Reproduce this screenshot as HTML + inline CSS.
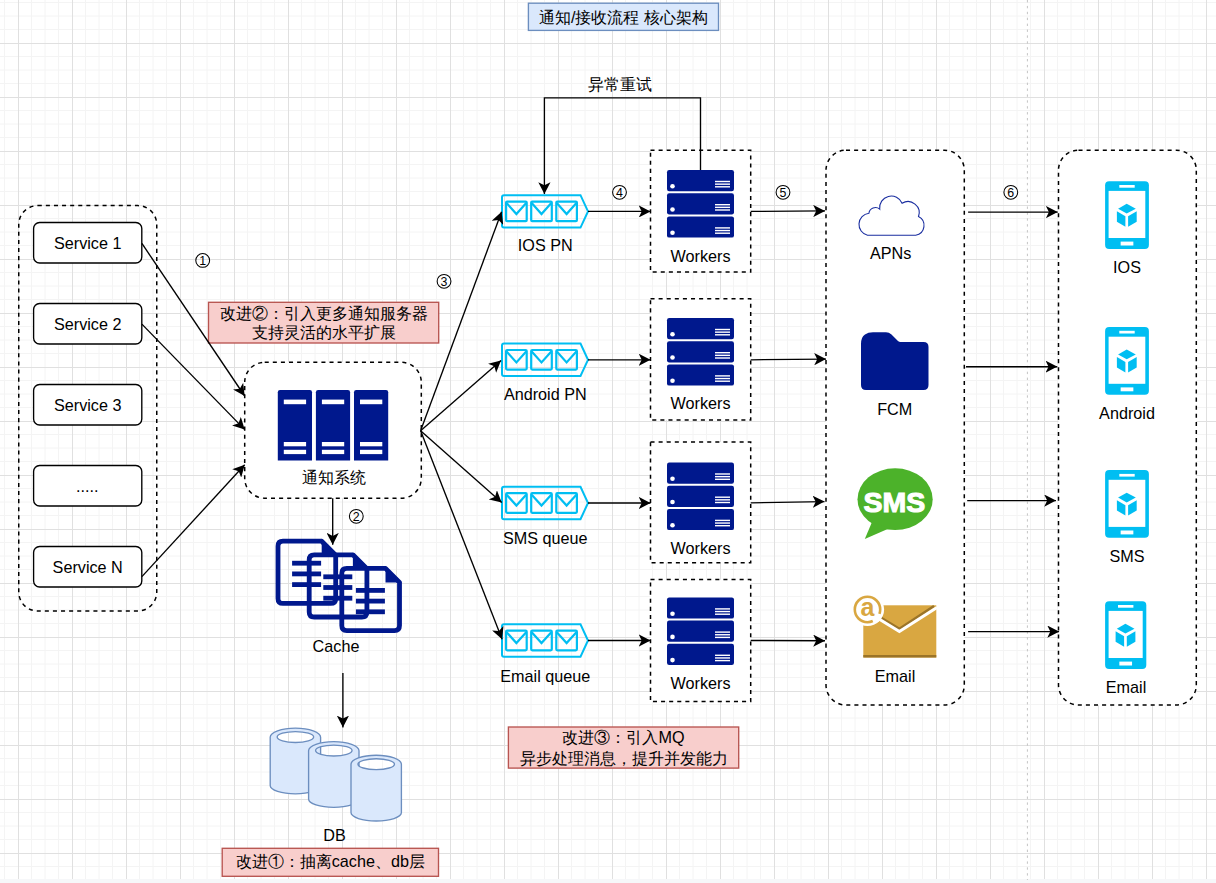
<!DOCTYPE html>
<html><head><meta charset="utf-8"><title>diagram</title>
<style>
html,body{margin:0;padding:0;background:#fff;width:1216px;height:883px;overflow:hidden}
svg{display:block}
text{font-family:'Liberation Sans', sans-serif;font-size:16.2px;fill:#000}
</style></head><body>
<svg width="1216" height="883" viewBox="0 0 1216 883">
<defs>
<marker id="ar" viewBox="0 0 11.8 12.2" refX="11.8" refY="6.1" markerWidth="11.8" markerHeight="12.2" markerUnits="userSpaceOnUse" orient="auto">
<path d="M0 0 L11.8 6.1 L0 12.2 L3 6.1 Z" fill="#000"/>
</marker>
</defs>

<g stroke="#f4f4f4" stroke-width="1"><line x1="4.5" y1="0" x2="4.5" y2="879"/><line x1="31.5" y1="0" x2="31.5" y2="879"/><line x1="45.0" y1="0" x2="45.0" y2="879"/><line x1="58.5" y1="0" x2="58.5" y2="879"/><line x1="85.5" y1="0" x2="85.5" y2="879"/><line x1="99.0" y1="0" x2="99.0" y2="879"/><line x1="112.5" y1="0" x2="112.5" y2="879"/><line x1="139.5" y1="0" x2="139.5" y2="879"/><line x1="153.0" y1="0" x2="153.0" y2="879"/><line x1="166.5" y1="0" x2="166.5" y2="879"/><line x1="193.5" y1="0" x2="193.5" y2="879"/><line x1="207.0" y1="0" x2="207.0" y2="879"/><line x1="220.5" y1="0" x2="220.5" y2="879"/><line x1="247.5" y1="0" x2="247.5" y2="879"/><line x1="261.0" y1="0" x2="261.0" y2="879"/><line x1="274.5" y1="0" x2="274.5" y2="879"/><line x1="301.5" y1="0" x2="301.5" y2="879"/><line x1="315.0" y1="0" x2="315.0" y2="879"/><line x1="328.5" y1="0" x2="328.5" y2="879"/><line x1="355.5" y1="0" x2="355.5" y2="879"/><line x1="369.0" y1="0" x2="369.0" y2="879"/><line x1="382.5" y1="0" x2="382.5" y2="879"/><line x1="409.5" y1="0" x2="409.5" y2="879"/><line x1="423.0" y1="0" x2="423.0" y2="879"/><line x1="436.5" y1="0" x2="436.5" y2="879"/><line x1="463.5" y1="0" x2="463.5" y2="879"/><line x1="477.0" y1="0" x2="477.0" y2="879"/><line x1="490.5" y1="0" x2="490.5" y2="879"/><line x1="517.5" y1="0" x2="517.5" y2="879"/><line x1="531.0" y1="0" x2="531.0" y2="879"/><line x1="544.5" y1="0" x2="544.5" y2="879"/><line x1="571.5" y1="0" x2="571.5" y2="879"/><line x1="585.0" y1="0" x2="585.0" y2="879"/><line x1="598.5" y1="0" x2="598.5" y2="879"/><line x1="625.5" y1="0" x2="625.5" y2="879"/><line x1="639.0" y1="0" x2="639.0" y2="879"/><line x1="652.5" y1="0" x2="652.5" y2="879"/><line x1="679.5" y1="0" x2="679.5" y2="879"/><line x1="693.0" y1="0" x2="693.0" y2="879"/><line x1="706.5" y1="0" x2="706.5" y2="879"/><line x1="733.5" y1="0" x2="733.5" y2="879"/><line x1="747.0" y1="0" x2="747.0" y2="879"/><line x1="760.5" y1="0" x2="760.5" y2="879"/><line x1="787.5" y1="0" x2="787.5" y2="879"/><line x1="801.0" y1="0" x2="801.0" y2="879"/><line x1="814.5" y1="0" x2="814.5" y2="879"/><line x1="841.5" y1="0" x2="841.5" y2="879"/><line x1="855.0" y1="0" x2="855.0" y2="879"/><line x1="868.5" y1="0" x2="868.5" y2="879"/><line x1="895.5" y1="0" x2="895.5" y2="879"/><line x1="909.0" y1="0" x2="909.0" y2="879"/><line x1="922.5" y1="0" x2="922.5" y2="879"/><line x1="949.5" y1="0" x2="949.5" y2="879"/><line x1="963.0" y1="0" x2="963.0" y2="879"/><line x1="976.5" y1="0" x2="976.5" y2="879"/><line x1="1003.5" y1="0" x2="1003.5" y2="879"/><line x1="1017.0" y1="0" x2="1017.0" y2="879"/><line x1="1030.5" y1="0" x2="1030.5" y2="879"/><line x1="1057.5" y1="0" x2="1057.5" y2="879"/><line x1="1071.0" y1="0" x2="1071.0" y2="879"/><line x1="1084.5" y1="0" x2="1084.5" y2="879"/><line x1="1111.5" y1="0" x2="1111.5" y2="879"/><line x1="1125.0" y1="0" x2="1125.0" y2="879"/><line x1="1138.5" y1="0" x2="1138.5" y2="879"/><line x1="1165.5" y1="0" x2="1165.5" y2="879"/><line x1="1179.0" y1="0" x2="1179.0" y2="879"/><line x1="1192.5" y1="0" x2="1192.5" y2="879"/><line x1="0" y1="2.5" x2="1216" y2="2.5"/><line x1="0" y1="16.0" x2="1216" y2="16.0"/><line x1="0" y1="29.5" x2="1216" y2="29.5"/><line x1="0" y1="56.5" x2="1216" y2="56.5"/><line x1="0" y1="70.0" x2="1216" y2="70.0"/><line x1="0" y1="83.5" x2="1216" y2="83.5"/><line x1="0" y1="110.5" x2="1216" y2="110.5"/><line x1="0" y1="124.0" x2="1216" y2="124.0"/><line x1="0" y1="137.5" x2="1216" y2="137.5"/><line x1="0" y1="164.5" x2="1216" y2="164.5"/><line x1="0" y1="178.0" x2="1216" y2="178.0"/><line x1="0" y1="191.5" x2="1216" y2="191.5"/><line x1="0" y1="218.5" x2="1216" y2="218.5"/><line x1="0" y1="232.0" x2="1216" y2="232.0"/><line x1="0" y1="245.5" x2="1216" y2="245.5"/><line x1="0" y1="272.5" x2="1216" y2="272.5"/><line x1="0" y1="286.0" x2="1216" y2="286.0"/><line x1="0" y1="299.5" x2="1216" y2="299.5"/><line x1="0" y1="326.5" x2="1216" y2="326.5"/><line x1="0" y1="340.0" x2="1216" y2="340.0"/><line x1="0" y1="353.5" x2="1216" y2="353.5"/><line x1="0" y1="380.5" x2="1216" y2="380.5"/><line x1="0" y1="394.0" x2="1216" y2="394.0"/><line x1="0" y1="407.5" x2="1216" y2="407.5"/><line x1="0" y1="434.5" x2="1216" y2="434.5"/><line x1="0" y1="448.0" x2="1216" y2="448.0"/><line x1="0" y1="461.5" x2="1216" y2="461.5"/><line x1="0" y1="488.5" x2="1216" y2="488.5"/><line x1="0" y1="502.0" x2="1216" y2="502.0"/><line x1="0" y1="515.5" x2="1216" y2="515.5"/><line x1="0" y1="542.5" x2="1216" y2="542.5"/><line x1="0" y1="556.0" x2="1216" y2="556.0"/><line x1="0" y1="569.5" x2="1216" y2="569.5"/><line x1="0" y1="596.5" x2="1216" y2="596.5"/><line x1="0" y1="610.0" x2="1216" y2="610.0"/><line x1="0" y1="623.5" x2="1216" y2="623.5"/><line x1="0" y1="650.5" x2="1216" y2="650.5"/><line x1="0" y1="664.0" x2="1216" y2="664.0"/><line x1="0" y1="677.5" x2="1216" y2="677.5"/><line x1="0" y1="704.5" x2="1216" y2="704.5"/><line x1="0" y1="718.0" x2="1216" y2="718.0"/><line x1="0" y1="731.5" x2="1216" y2="731.5"/><line x1="0" y1="758.5" x2="1216" y2="758.5"/><line x1="0" y1="772.0" x2="1216" y2="772.0"/><line x1="0" y1="785.5" x2="1216" y2="785.5"/><line x1="0" y1="812.5" x2="1216" y2="812.5"/><line x1="0" y1="826.0" x2="1216" y2="826.0"/><line x1="0" y1="839.5" x2="1216" y2="839.5"/><line x1="0" y1="866.5" x2="1216" y2="866.5"/></g>
<g stroke="#e0e0e0" stroke-width="1"><line x1="18.5" y1="0" x2="18.5" y2="879"/><line x1="72.5" y1="0" x2="72.5" y2="879"/><line x1="126.5" y1="0" x2="126.5" y2="879"/><line x1="180.5" y1="0" x2="180.5" y2="879"/><line x1="234.5" y1="0" x2="234.5" y2="879"/><line x1="288.5" y1="0" x2="288.5" y2="879"/><line x1="342.5" y1="0" x2="342.5" y2="879"/><line x1="396.5" y1="0" x2="396.5" y2="879"/><line x1="450.5" y1="0" x2="450.5" y2="879"/><line x1="504.5" y1="0" x2="504.5" y2="879"/><line x1="558.5" y1="0" x2="558.5" y2="879"/><line x1="612.5" y1="0" x2="612.5" y2="879"/><line x1="666.5" y1="0" x2="666.5" y2="879"/><line x1="720.5" y1="0" x2="720.5" y2="879"/><line x1="774.5" y1="0" x2="774.5" y2="879"/><line x1="828.5" y1="0" x2="828.5" y2="879"/><line x1="882.5" y1="0" x2="882.5" y2="879"/><line x1="936.5" y1="0" x2="936.5" y2="879"/><line x1="990.5" y1="0" x2="990.5" y2="879"/><line x1="1044.5" y1="0" x2="1044.5" y2="879"/><line x1="1098.5" y1="0" x2="1098.5" y2="879"/><line x1="1152.5" y1="0" x2="1152.5" y2="879"/><line x1="1206.5" y1="0" x2="1206.5" y2="879"/><line x1="0" y1="43.5" x2="1216" y2="43.5"/><line x1="0" y1="97.5" x2="1216" y2="97.5"/><line x1="0" y1="151.5" x2="1216" y2="151.5"/><line x1="0" y1="205.5" x2="1216" y2="205.5"/><line x1="0" y1="259.5" x2="1216" y2="259.5"/><line x1="0" y1="313.5" x2="1216" y2="313.5"/><line x1="0" y1="367.5" x2="1216" y2="367.5"/><line x1="0" y1="421.5" x2="1216" y2="421.5"/><line x1="0" y1="475.5" x2="1216" y2="475.5"/><line x1="0" y1="529.5" x2="1216" y2="529.5"/><line x1="0" y1="583.5" x2="1216" y2="583.5"/><line x1="0" y1="637.5" x2="1216" y2="637.5"/><line x1="0" y1="691.5" x2="1216" y2="691.5"/><line x1="0" y1="745.5" x2="1216" y2="745.5"/><line x1="0" y1="799.5" x2="1216" y2="799.5"/><line x1="0" y1="853.5" x2="1216" y2="853.5"/></g>
<rect x="0" y="879" width="1216" height="4" fill="#f6f7f9"/>
<line x1="1027.4" y1="0" x2="1027.4" y2="880" stroke="#c4c4c4" stroke-width="1" stroke-dasharray="2.4 3.5"/>
<rect x="528.4" y="3.2" width="190.1" height="27.2" fill="#dae8fc" stroke="#6c8ebf" stroke-width="1.35"/>
<text x="623.5" y="22.6" text-anchor="middle" >通知/接收流程 核心架构</text>
<rect x="18.75" y="205.6" width="138" height="405.4" rx="19" ry="19" fill="none" stroke="#000" stroke-width="1.5" stroke-dasharray="4.05 4.05"/>
<rect x="33.6" y="222.5" width="108.2" height="40.5" rx="6" ry="6" fill="#fff" stroke="#000" stroke-width="1.35"/>
<text x="87.7" y="248.6" text-anchor="middle" >Service 1</text>
<rect x="33.6" y="303.5" width="108.2" height="40.5" rx="6" ry="6" fill="#fff" stroke="#000" stroke-width="1.35"/>
<text x="87.7" y="329.6" text-anchor="middle" >Service 2</text>
<rect x="33.6" y="384.5" width="108.2" height="40.5" rx="6" ry="6" fill="#fff" stroke="#000" stroke-width="1.35"/>
<text x="87.7" y="410.6" text-anchor="middle" >Service 3</text>
<rect x="33.6" y="465.5" width="108.2" height="40.5" rx="6" ry="6" fill="#fff" stroke="#000" stroke-width="1.35"/>
<text x="87.2" y="492.1" text-anchor="middle" >.....</text>
<rect x="33.6" y="546.5" width="108.2" height="40.5" rx="6" ry="6" fill="#fff" stroke="#000" stroke-width="1.35"/>
<text x="87.7" y="572.6" text-anchor="middle" >Service N</text>
<rect x="208.5" y="302.3" width="230.2" height="40.7" fill="#f8cecc" stroke="#b85450" stroke-width="1.35"/>
<text x="323.6" y="318.6" text-anchor="middle" >改进②：引入更多通知服务器</text>
<text x="323.6" y="338.0" text-anchor="middle" >支持灵活的水平扩展</text>
<rect x="244.7" y="362.3" width="176.6" height="135.9" rx="20" ry="20" fill="#fff" stroke="#000" stroke-width="1.5" stroke-dasharray="4.05 4.05"/>
<path d="M277.8 392.2 q0 -2.2 2.2 -2.2 h29.8 q2.2 0 2.2 2.2 V460.6 H277.8 Z" fill="#00188d"/>
<rect x="283.8" y="399.6" width="22.3" height="4.6" fill="#fff"/>
<rect x="283.8" y="442" width="22.3" height="4.3" fill="#fff"/>
<rect x="283.8" y="449.8" width="22.3" height="4.3" fill="#fff"/>
<path d="M315.90000000000003 392.2 q0 -2.2 2.2 -2.2 h29.8 q2.2 0 2.2 2.2 V460.6 H315.90000000000003 Z" fill="#00188d"/>
<rect x="321.90000000000003" y="399.6" width="22.3" height="4.6" fill="#fff"/>
<rect x="321.90000000000003" y="442" width="22.3" height="4.3" fill="#fff"/>
<rect x="321.90000000000003" y="449.8" width="22.3" height="4.3" fill="#fff"/>
<path d="M354.0 392.2 q0 -2.2 2.2 -2.2 h29.8 q2.2 0 2.2 2.2 V460.6 H354.0 Z" fill="#00188d"/>
<rect x="360.0" y="399.6" width="22.3" height="4.6" fill="#fff"/>
<rect x="360.0" y="442" width="22.3" height="4.3" fill="#fff"/>
<rect x="360.0" y="449.8" width="22.3" height="4.3" fill="#fff"/>
<text x="333.5" y="483.2" text-anchor="middle" >通知系统</text>
<line x1="141.9" y1="243.4" x2="244.7" y2="396.0" stroke="#000" stroke-width="1.35" marker-end="url(#ar)"/>
<line x1="141.9" y1="324.1" x2="244.7" y2="429.6" stroke="#000" stroke-width="1.35" marker-end="url(#ar)"/>
<line x1="141.9" y1="576.6" x2="244.7" y2="464.8" stroke="#000" stroke-width="1.35" marker-end="url(#ar)"/>
<circle cx="202.7" cy="260.4" r="6.9" fill="none" stroke="#000" stroke-width="1.05"/>
<text x="202.7" y="264.79999999999995" text-anchor="middle" style="font-size:12.4px">1</text>
<line x1="332.7" y1="498.2" x2="332.7" y2="544.7" stroke="#000" stroke-width="1.35" marker-end="url(#ar)"/>
<circle cx="356.3" cy="516.3" r="6.9" fill="none" stroke="#000" stroke-width="1.05"/>
<text x="356.3" y="520.6999999999999" text-anchor="middle" style="font-size:12.4px">2</text>
<path d="M283.0 541.1999999999999 H321.70000000000005 L335.70000000000005 555.1999999999999 V598.4 Q335.70000000000005 603.4 330.70000000000005 603.4 H283.0 Q278.0 603.4 278.0 598.4 V546.1999999999999 Q278.0 541.1999999999999 283.0 541.1999999999999 Z" fill="none" stroke="#00188d" stroke-width="4.8" stroke-linejoin="round"/>
<path d="M321.70000000000005 538.8 L338.1 555.1999999999999 H321.70000000000005 Z" fill="#00188d"/>
<rect x="292.1" y="560.8" width="29" height="4.8" fill="#00188d"/>
<rect x="292.1" y="571.5" width="29" height="4.8" fill="#00188d"/>
<rect x="292.1" y="582.1999999999999" width="29" height="4.8" fill="#00188d"/>
<path d="M314.2 554.8 H352.90000000000003 L366.90000000000003 568.8 V612.0 Q366.90000000000003 617.0 361.90000000000003 617.0 H314.2 Q309.2 617.0 309.2 612.0 V559.8 Q309.2 554.8 314.2 554.8 Z" fill="none" stroke="#00188d" stroke-width="4.8" stroke-linejoin="round"/>
<path d="M352.90000000000003 552.4 L369.3 568.8 H352.90000000000003 Z" fill="#00188d"/>
<rect x="323.3" y="574.4" width="29" height="4.8" fill="#00188d"/>
<rect x="323.3" y="585.1" width="29" height="4.8" fill="#00188d"/>
<rect x="323.3" y="595.8" width="29" height="4.8" fill="#00188d"/>
<path d="M346.79999999999995 568.4 H385.5 L399.5 582.4 V625.6 Q399.5 630.6 394.5 630.6 H346.79999999999995 Q341.79999999999995 630.6 341.79999999999995 625.6 V573.4 Q341.79999999999995 568.4 346.79999999999995 568.4 Z" fill="none" stroke="#00188d" stroke-width="4.8" stroke-linejoin="round"/>
<path d="M385.5 566.0 L401.9 582.4 H385.5 Z" fill="#00188d"/>
<rect x="355.9" y="588.0" width="29" height="4.8" fill="#00188d"/>
<rect x="355.9" y="598.7" width="29" height="4.8" fill="#00188d"/>
<rect x="355.9" y="609.4" width="29" height="4.8" fill="#00188d"/>
<text x="336" y="651.7" text-anchor="middle" >Cache</text>
<line x1="342.9" y1="673.1" x2="342.9" y2="727.4" stroke="#000" stroke-width="1.35" marker-end="url(#ar)"/>
<path d="M270.2 737.3000000000001 A25.2 9.2 0 0 1 320.59999999999997 737.3000000000001 V785.5 A25.2 8.4 0 0 1 270.2 785.5 Z M277.15 737.0500000000001 A18.25 5.45 0 1 0 313.65 737.0500000000001 A18.25 5.45 0 1 0 277.15 737.0500000000001 Z" fill="#dae8fc" fill-rule="evenodd" stroke="#6c8ebf" stroke-width="1.35"/>
<path d="M308.6 750.8000000000001 A25.2 9.2 0 0 1 359.0 750.8000000000001 V799.0 A25.2 8.4 0 0 1 308.6 799.0 Z M315.55 750.5500000000001 A18.25 5.45 0 1 0 352.05 750.5500000000001 A18.25 5.45 0 1 0 315.55 750.5500000000001 Z" fill="#dae8fc" fill-rule="evenodd" stroke="#6c8ebf" stroke-width="1.35"/>
<path d="M351.0 764.4000000000001 A25.2 9.2 0 0 1 401.4 764.4000000000001 V812.6 A25.2 8.4 0 0 1 351.0 812.6 Z M357.95 764.1500000000001 A18.25 5.45 0 1 0 394.45 764.1500000000001 A18.25 5.45 0 1 0 357.95 764.1500000000001 Z" fill="#dae8fc" fill-rule="evenodd" stroke="#6c8ebf" stroke-width="1.35"/>
<text x="334.5" y="840.5" text-anchor="middle" >DB</text>
<rect x="222.2" y="848.3" width="216.3" height="28" fill="#f8cecc" stroke="#b85450" stroke-width="1.35"/>
<text x="330.3" y="867.3" text-anchor="middle" >改进①：抽离cache、db层</text>
<path d="M504 195.20000000000002 H580.5 L588 211.4 L580.5 227.6 H504 Q502 227.6 502 225.6 V197.20000000000002 Q502 195.20000000000002 504 195.20000000000002 Z" fill="none" stroke="#00bef2" stroke-width="2"/>
<rect x="506.1" y="201.6" width="20.6" height="19.6" rx="1" fill="none" stroke="#00bef2" stroke-width="2.2"/>
<path d="M506.6 203.1 L516.4 214.0 L526.2 203.1" fill="none" stroke="#00bef2" stroke-width="2.2"/>
<rect x="531.2" y="201.6" width="20.6" height="19.6" rx="1" fill="none" stroke="#00bef2" stroke-width="2.2"/>
<path d="M531.7 203.1 L541.5 214.0 L551.3000000000001 203.1" fill="none" stroke="#00bef2" stroke-width="2.2"/>
<rect x="556.3000000000001" y="201.6" width="20.6" height="19.6" rx="1" fill="none" stroke="#00bef2" stroke-width="2.2"/>
<path d="M556.8000000000001 203.1 L566.6 214.0 L576.4000000000001 203.1" fill="none" stroke="#00bef2" stroke-width="2.2"/>
<text x="545.3" y="250.6" text-anchor="middle" >IOS PN</text>
<path d="M504 343.6 H580.5 L588 359.8 L580.5 376.0 H504 Q502 376.0 502 374.0 V345.6 Q502 343.6 504 343.6 Z" fill="none" stroke="#00bef2" stroke-width="2"/>
<rect x="506.1" y="350.0" width="20.6" height="19.6" rx="1" fill="none" stroke="#00bef2" stroke-width="2.2"/>
<path d="M506.6 351.5 L516.4 362.4 L526.2 351.5" fill="none" stroke="#00bef2" stroke-width="2.2"/>
<rect x="531.2" y="350.0" width="20.6" height="19.6" rx="1" fill="none" stroke="#00bef2" stroke-width="2.2"/>
<path d="M531.7 351.5 L541.5 362.4 L551.3000000000001 351.5" fill="none" stroke="#00bef2" stroke-width="2.2"/>
<rect x="556.3000000000001" y="350.0" width="20.6" height="19.6" rx="1" fill="none" stroke="#00bef2" stroke-width="2.2"/>
<path d="M556.8000000000001 351.5 L566.6 362.4 L576.4000000000001 351.5" fill="none" stroke="#00bef2" stroke-width="2.2"/>
<text x="545.3" y="400.0" text-anchor="middle" >Android PN</text>
<path d="M504 486.8 H580.5 L588 503.0 L580.5 519.2 H504 Q502 519.2 502 517.2 V488.8 Q502 486.8 504 486.8 Z" fill="none" stroke="#00bef2" stroke-width="2"/>
<rect x="506.1" y="493.2" width="20.6" height="19.6" rx="1" fill="none" stroke="#00bef2" stroke-width="2.2"/>
<path d="M506.6 494.7 L516.4 505.59999999999997 L526.2 494.7" fill="none" stroke="#00bef2" stroke-width="2.2"/>
<rect x="531.2" y="493.2" width="20.6" height="19.6" rx="1" fill="none" stroke="#00bef2" stroke-width="2.2"/>
<path d="M531.7 494.7 L541.5 505.59999999999997 L551.3000000000001 494.7" fill="none" stroke="#00bef2" stroke-width="2.2"/>
<rect x="556.3000000000001" y="493.2" width="20.6" height="19.6" rx="1" fill="none" stroke="#00bef2" stroke-width="2.2"/>
<path d="M556.8000000000001 494.7 L566.6 505.59999999999997 L576.4000000000001 494.7" fill="none" stroke="#00bef2" stroke-width="2.2"/>
<text x="545.3" y="544.0" text-anchor="middle" >SMS queue</text>
<path d="M504 624.3 H580.5 L588 640.5 L580.5 656.7 H504 Q502 656.7 502 654.7 V626.3 Q502 624.3 504 624.3 Z" fill="none" stroke="#00bef2" stroke-width="2"/>
<rect x="506.1" y="630.7" width="20.6" height="19.6" rx="1" fill="none" stroke="#00bef2" stroke-width="2.2"/>
<path d="M506.6 632.2 L516.4 643.1 L526.2 632.2" fill="none" stroke="#00bef2" stroke-width="2.2"/>
<rect x="531.2" y="630.7" width="20.6" height="19.6" rx="1" fill="none" stroke="#00bef2" stroke-width="2.2"/>
<path d="M531.7 632.2 L541.5 643.1 L551.3000000000001 632.2" fill="none" stroke="#00bef2" stroke-width="2.2"/>
<rect x="556.3000000000001" y="630.7" width="20.6" height="19.6" rx="1" fill="none" stroke="#00bef2" stroke-width="2.2"/>
<path d="M556.8000000000001 632.2 L566.6 643.1 L576.4000000000001 632.2" fill="none" stroke="#00bef2" stroke-width="2.2"/>
<text x="545.3" y="682.3" text-anchor="middle" >Email queue</text>
<line x1="420.6" y1="430.8" x2="501.6" y2="211.7" stroke="#000" stroke-width="1.35" marker-end="url(#ar)"/>
<line x1="420.6" y1="430.8" x2="501.0" y2="360.5" stroke="#000" stroke-width="1.35" marker-end="url(#ar)"/>
<line x1="420.6" y1="430.8" x2="501.7" y2="502.6" stroke="#000" stroke-width="1.35" marker-end="url(#ar)"/>
<line x1="420.6" y1="430.8" x2="502.1" y2="639.2" stroke="#000" stroke-width="1.35" marker-end="url(#ar)"/>
<circle cx="444.05" cy="281.3" r="6.9" fill="none" stroke="#000" stroke-width="1.05"/>
<text x="444.05" y="285.7" text-anchor="middle" style="font-size:12.4px">3</text>
<rect x="650.5" y="150.3" width="100.2" height="121.69999999999999" fill="#fff" stroke="#000" stroke-width="1.5" stroke-dasharray="4.05 4.05"/>
<rect x="667.0" y="170.0" width="67" height="21.2" rx="2.2" fill="#00188d"/>
<circle cx="672.5" cy="186.3" r="2.3" fill="#fff"/>
<rect x="715.0" y="180.8" width="15" height="1.4" fill="#fff"/>
<rect x="715.0" y="183.45000000000002" width="15" height="1.4" fill="#fff"/>
<rect x="715.0" y="186.10000000000002" width="15" height="1.4" fill="#fff"/>
<rect x="667.0" y="193.2" width="67" height="21.2" rx="2.2" fill="#00188d"/>
<circle cx="672.5" cy="209.5" r="2.3" fill="#fff"/>
<rect x="715.0" y="204.0" width="15" height="1.4" fill="#fff"/>
<rect x="715.0" y="206.65" width="15" height="1.4" fill="#fff"/>
<rect x="715.0" y="209.3" width="15" height="1.4" fill="#fff"/>
<rect x="667.0" y="216.4" width="67" height="21.2" rx="2.2" fill="#00188d"/>
<circle cx="672.5" cy="232.70000000000002" r="2.3" fill="#fff"/>
<rect x="715.0" y="227.20000000000002" width="15" height="1.4" fill="#fff"/>
<rect x="715.0" y="229.85000000000002" width="15" height="1.4" fill="#fff"/>
<rect x="715.0" y="232.50000000000003" width="15" height="1.4" fill="#fff"/>
<text x="700.6" y="262.2" text-anchor="middle" >Workers</text>
<rect x="650.5" y="298.7" width="100.2" height="121.30000000000001" fill="#fff" stroke="#000" stroke-width="1.5" stroke-dasharray="4.05 4.05"/>
<rect x="667.0" y="318.0" width="67" height="21.2" rx="2.2" fill="#00188d"/>
<circle cx="672.5" cy="334.3" r="2.3" fill="#fff"/>
<rect x="715.0" y="328.8" width="15" height="1.4" fill="#fff"/>
<rect x="715.0" y="331.45" width="15" height="1.4" fill="#fff"/>
<rect x="715.0" y="334.1" width="15" height="1.4" fill="#fff"/>
<rect x="667.0" y="341.2" width="67" height="21.2" rx="2.2" fill="#00188d"/>
<circle cx="672.5" cy="357.5" r="2.3" fill="#fff"/>
<rect x="715.0" y="352.0" width="15" height="1.4" fill="#fff"/>
<rect x="715.0" y="354.65" width="15" height="1.4" fill="#fff"/>
<rect x="715.0" y="357.3" width="15" height="1.4" fill="#fff"/>
<rect x="667.0" y="364.4" width="67" height="21.2" rx="2.2" fill="#00188d"/>
<circle cx="672.5" cy="380.7" r="2.3" fill="#fff"/>
<rect x="715.0" y="375.2" width="15" height="1.4" fill="#fff"/>
<rect x="715.0" y="377.84999999999997" width="15" height="1.4" fill="#fff"/>
<rect x="715.0" y="380.5" width="15" height="1.4" fill="#fff"/>
<text x="700.6" y="409.1" text-anchor="middle" >Workers</text>
<rect x="650.5" y="442.1" width="100.2" height="120.60000000000002" fill="#fff" stroke="#000" stroke-width="1.5" stroke-dasharray="4.05 4.05"/>
<rect x="667.0" y="462.5" width="67" height="21.2" rx="2.2" fill="#00188d"/>
<circle cx="672.5" cy="478.8" r="2.3" fill="#fff"/>
<rect x="715.0" y="473.3" width="15" height="1.4" fill="#fff"/>
<rect x="715.0" y="475.95" width="15" height="1.4" fill="#fff"/>
<rect x="715.0" y="478.6" width="15" height="1.4" fill="#fff"/>
<rect x="667.0" y="485.7" width="67" height="21.2" rx="2.2" fill="#00188d"/>
<circle cx="672.5" cy="502.0" r="2.3" fill="#fff"/>
<rect x="715.0" y="496.5" width="15" height="1.4" fill="#fff"/>
<rect x="715.0" y="499.15" width="15" height="1.4" fill="#fff"/>
<rect x="715.0" y="501.8" width="15" height="1.4" fill="#fff"/>
<rect x="667.0" y="508.9" width="67" height="21.2" rx="2.2" fill="#00188d"/>
<circle cx="672.5" cy="525.1999999999999" r="2.3" fill="#fff"/>
<rect x="715.0" y="519.6999999999999" width="15" height="1.4" fill="#fff"/>
<rect x="715.0" y="522.3499999999999" width="15" height="1.4" fill="#fff"/>
<rect x="715.0" y="524.9999999999999" width="15" height="1.4" fill="#fff"/>
<text x="700.6" y="553.5" text-anchor="middle" >Workers</text>
<rect x="650.5" y="579.6" width="100.2" height="122.0" fill="#fff" stroke="#000" stroke-width="1.5" stroke-dasharray="4.05 4.05"/>
<rect x="667.0" y="597.4" width="67" height="21.2" rx="2.2" fill="#00188d"/>
<circle cx="672.5" cy="613.6999999999999" r="2.3" fill="#fff"/>
<rect x="715.0" y="608.1999999999999" width="15" height="1.4" fill="#fff"/>
<rect x="715.0" y="610.8499999999999" width="15" height="1.4" fill="#fff"/>
<rect x="715.0" y="613.4999999999999" width="15" height="1.4" fill="#fff"/>
<rect x="667.0" y="620.6" width="67" height="21.2" rx="2.2" fill="#00188d"/>
<circle cx="672.5" cy="636.9" r="2.3" fill="#fff"/>
<rect x="715.0" y="631.4" width="15" height="1.4" fill="#fff"/>
<rect x="715.0" y="634.05" width="15" height="1.4" fill="#fff"/>
<rect x="715.0" y="636.6999999999999" width="15" height="1.4" fill="#fff"/>
<rect x="667.0" y="643.8" width="67" height="21.2" rx="2.2" fill="#00188d"/>
<circle cx="672.5" cy="660.0999999999999" r="2.3" fill="#fff"/>
<rect x="715.0" y="654.5999999999999" width="15" height="1.4" fill="#fff"/>
<rect x="715.0" y="657.2499999999999" width="15" height="1.4" fill="#fff"/>
<rect x="715.0" y="659.8999999999999" width="15" height="1.4" fill="#fff"/>
<text x="700.6" y="689.0" text-anchor="middle" >Workers</text>
<line x1="588" y1="211.4" x2="650.5" y2="211.4" stroke="#000" stroke-width="1.35" marker-end="url(#ar)"/>
<line x1="588" y1="359.8" x2="650.5" y2="359.8" stroke="#000" stroke-width="1.35" marker-end="url(#ar)"/>
<line x1="588" y1="503.0" x2="650.5" y2="503.0" stroke="#000" stroke-width="1.35" marker-end="url(#ar)"/>
<line x1="588" y1="640.5" x2="650.5" y2="640.5" stroke="#000" stroke-width="1.35" marker-end="url(#ar)"/>
<circle cx="619.5" cy="192.3" r="6.9" fill="none" stroke="#000" stroke-width="1.05"/>
<text x="619.5" y="196.70000000000002" text-anchor="middle" style="font-size:12.4px">4</text>
<path d="M700.5 170 V97.8 H544.4 V194" fill="none" stroke="#000" stroke-width="1.35" marker-end="url(#ar)"/>
<text x="619.8" y="89.8" text-anchor="middle" >异常重试</text>
<rect x="826" y="150.2" width="138.3" height="554.8" rx="20" ry="20" fill="#fff" stroke="#000" stroke-width="1.5" stroke-dasharray="4.05 4.05"/>
<path d="M867.5 235.3 A11.2 11.2 0 0 1 868.9 213.3 A6.6 6.6 0 0 1 879.7 209.1 A11.7 11.7 0 0 1 902.1 203.2 A11.2 11.2 0 0 1 918.5 216.5 A10 10 0 0 1 915.7 235.3 Z" fill="none" stroke="#1a2ea0" stroke-width="1.1"/>
<text x="890.6" y="259" text-anchor="middle" >APNs</text>
<path d="M861 344 Q861 337 865 334.5 Q868 332.2 873 332.2 H886 Q889 332.2 891.5 334.5 L898 341 Q899 342 900.5 342 H923.5 Q928.5 342 928.5 347 V385 Q928.5 390 923.5 390 H866 Q861 390 861 385 Z" fill="#00188d"/>
<text x="894.7" y="414.6" text-anchor="middle" >FCM</text>
<ellipse cx="895.1" cy="499.2" rx="37.6" ry="30.9" fill="#4cb22a"/>
<path d="M872 522 L864.8 539 L890 528 Z" fill="#4cb22a"/>
<text x="894.5" y="511.5" text-anchor="middle" style="font-size:28.5px;font-weight:bold;fill:#fff;stroke:#fff;stroke-width:1.1">SMS</text>
<rect x="863.3" y="605.3" width="73" height="52.2" fill="#d9a741"/>
<rect x="863.3" y="655" width="73" height="2.5" fill="#9b7428"/>
<path d="M870 611 L899.4 628.7 L934 606" fill="none" stroke="#9b7428" stroke-width="2.5"/>
<path d="M870 613.5 L899.4 631.6 L937 607.5" fill="none" stroke="#fff" stroke-width="3"/>
<circle cx="867.5" cy="609.5" r="16.6" fill="#fff"/>
<circle cx="867.5" cy="609.5" r="12.7" fill="none" stroke="#d9a741" stroke-width="2.6" stroke-dasharray="4.4 10 65.4"/>
<text x="867.5" y="616.3" text-anchor="middle" style="font-size:25px;font-weight:bold;fill:#d9a741">a</text>
<text x="895" y="681.8" text-anchor="middle" >Email</text>
<line x1="750.7" y1="211.4" x2="825" y2="210.9" stroke="#000" stroke-width="1.35" marker-end="url(#ar)"/>
<line x1="750.7" y1="359.8" x2="826" y2="359.1" stroke="#000" stroke-width="1.35" marker-end="url(#ar)"/>
<line x1="750.7" y1="502.8" x2="824.5" y2="501.6" stroke="#000" stroke-width="1.35" marker-end="url(#ar)"/>
<line x1="750.7" y1="640.5" x2="825" y2="640.7" stroke="#000" stroke-width="1.35" marker-end="url(#ar)"/>
<circle cx="783" cy="192.3" r="6.9" fill="none" stroke="#000" stroke-width="1.05"/>
<text x="783" y="196.70000000000002" text-anchor="middle" style="font-size:12.4px">5</text>
<rect x="1058.5" y="150.2" width="137.8" height="554.8" rx="20" ry="20" fill="#fff" stroke="#000" stroke-width="1.5" stroke-dasharray="4.05 4.05"/>
<rect x="1105.1" y="181.2" width="43.8" height="67.7" rx="4" fill="#00bef2"/>
<rect x="1108.6" y="190.89999999999998" width="36.699999999999996" height="47.1" fill="#fff"/>
<rect x="1119.3" y="185.0" width="15.4" height="2.7" fill="#fff"/>
<rect x="1120.65" y="241.6" width="12.7" height="3.9" fill="#fff"/>
<polygon points="1126.70,203.80 1118.10,208.70 1126.70,213.50 1135.80,208.70" fill="#00bef2"/>
<polygon points="1116.90,211.30 1125.40,216.30 1125.40,226.70 1116.90,221.70" fill="#00bef2"/>
<polygon points="1136.70,211.30 1128.10,216.30 1128.10,226.70 1136.70,221.70" fill="#00bef2"/>
<text x="1127" y="273.3" text-anchor="middle" >IOS</text>
<rect x="1105.1" y="327.0" width="43.8" height="67.7" rx="4" fill="#00bef2"/>
<rect x="1108.6" y="336.7" width="36.699999999999996" height="47.1" fill="#fff"/>
<rect x="1119.3" y="330.8" width="15.4" height="2.7" fill="#fff"/>
<rect x="1120.65" y="387.4" width="12.7" height="3.9" fill="#fff"/>
<polygon points="1126.70,349.60 1118.10,354.50 1126.70,359.30 1135.80,354.50" fill="#00bef2"/>
<polygon points="1116.90,357.10 1125.40,362.10 1125.40,372.50 1116.90,367.50" fill="#00bef2"/>
<polygon points="1136.70,357.10 1128.10,362.10 1128.10,372.50 1136.70,367.50" fill="#00bef2"/>
<text x="1127" y="418.5" text-anchor="middle" >Android</text>
<rect x="1105.1" y="470.1" width="43.8" height="67.7" rx="4" fill="#00bef2"/>
<rect x="1108.6" y="479.8" width="36.699999999999996" height="47.1" fill="#fff"/>
<rect x="1119.3" y="473.90000000000003" width="15.4" height="2.7" fill="#fff"/>
<rect x="1120.65" y="530.5" width="12.7" height="3.9" fill="#fff"/>
<polygon points="1126.70,492.70 1118.10,497.60 1126.70,502.40 1135.80,497.60" fill="#00bef2"/>
<polygon points="1116.90,500.20 1125.40,505.20 1125.40,515.60 1116.90,510.60" fill="#00bef2"/>
<polygon points="1136.70,500.20 1128.10,505.20 1128.10,515.60 1136.70,510.60" fill="#00bef2"/>
<text x="1127" y="561.8" text-anchor="middle" >SMS</text>
<rect x="1105.1" y="601.2" width="41.2" height="67.7" rx="4" fill="#00bef2"/>
<rect x="1108.6" y="610.9000000000001" width="34.1" height="47.1" fill="#fff"/>
<rect x="1117.9999999999998" y="605.0" width="15.4" height="2.7" fill="#fff"/>
<rect x="1119.35" y="661.6" width="12.7" height="3.9" fill="#fff"/>
<polygon points="1125.40,623.80 1116.80,628.70 1125.40,633.50 1134.50,628.70" fill="#00bef2"/>
<polygon points="1115.60,631.30 1124.10,636.30 1124.10,646.70 1115.60,641.70" fill="#00bef2"/>
<polygon points="1135.40,631.30 1126.80,636.30 1126.80,646.70 1135.40,641.70" fill="#00bef2"/>
<text x="1126" y="692.9" text-anchor="middle" >Email</text>
<line x1="968.1" y1="212.1" x2="1057.7" y2="212.1" stroke="#000" stroke-width="1.35" marker-end="url(#ar)"/>
<line x1="966" y1="366.7" x2="1057.3" y2="366.7" stroke="#000" stroke-width="1.35" marker-end="url(#ar)"/>
<line x1="967.2" y1="500.6" x2="1056" y2="500.6" stroke="#000" stroke-width="1.35" marker-end="url(#ar)"/>
<line x1="968.1" y1="631.6" x2="1059.1" y2="631.6" stroke="#000" stroke-width="1.35" marker-end="url(#ar)"/>
<circle cx="1010.8" cy="192.3" r="6.9" fill="none" stroke="#000" stroke-width="1.05"/>
<text x="1010.8" y="196.70000000000002" text-anchor="middle" style="font-size:12.4px">6</text>
<rect x="508.4" y="727" width="230.3" height="41.1" fill="#f8cecc" stroke="#b85450" stroke-width="1.35"/>
<text x="623.5" y="743.4" text-anchor="middle" >改进③：引入MQ</text>
<text x="623.5" y="764.3" text-anchor="middle" >异步处理消息，提升并发能力</text>
</svg></body></html>
